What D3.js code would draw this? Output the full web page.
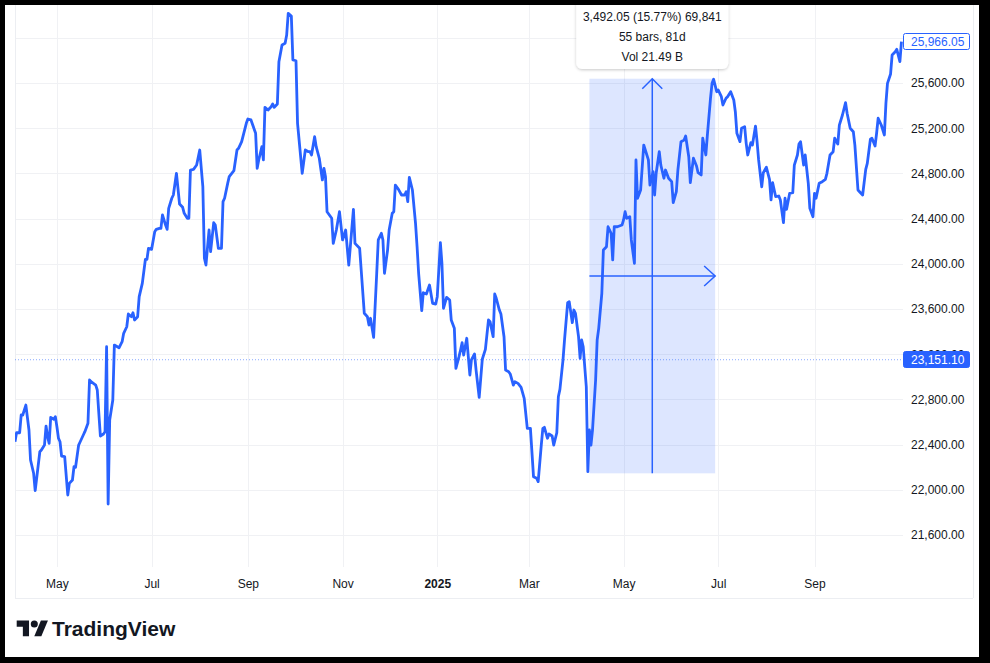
<!DOCTYPE html>
<html>
<head>
<meta charset="utf-8">
<script src="https://cdn.jsdelivr.net/npm/d3@7"></script>
<style>
  html, body { margin: 0; padding: 0; background: #ffffff; }
  svg { display: block; }
  text { font-family: "Liberation Sans", Arial, sans-serif; }
</style>
</head>
<body>
<svg id="drawing_region"></svg>
<script>
// daily closes
const dates = [
  "2024-04-04","2024-04-05","2024-04-07","2024-04-08","2024-04-09","2024-04-11","2024-04-13","2024-04-14","2024-04-16","2024-04-17",
  "2024-04-20","2024-04-21","2024-04-23","2024-04-24","2024-04-25","2024-04-26","2024-04-27","2024-04-29","2024-04-30","2024-05-01",
  "2024-05-02","2024-05-03","2024-05-04","2024-05-06","2024-05-08","2024-05-09","2024-05-11","2024-05-12","2024-05-13","2024-05-15",
  "2024-05-16","2024-05-18","2024-05-19","2024-05-21","2024-05-22","2024-05-23","2024-05-26","2024-05-27","2024-05-28","2024-05-29",
  "2024-05-31","2024-06-01","2024-06-02","2024-06-03","2024-06-04","2024-06-06","2024-06-07","2024-06-10","2024-06-12","2024-06-13",
  "2024-06-15","2024-06-16","2024-06-18","2024-06-19","2024-06-20","2024-06-22","2024-06-23","2024-06-25","2024-06-27","2024-06-28",
  "2024-06-29","2024-07-01","2024-07-03","2024-07-04","2024-07-06","2024-07-07","2024-07-08","2024-07-10","2024-07-11","2024-07-12",
  "2024-07-14","2024-07-15","2024-07-17","2024-07-19","2024-07-21","2024-07-22","2024-07-24","2024-07-25","2024-07-26","2024-07-28",
  "2024-07-30","2024-08-01","2024-08-03","2024-08-04","2024-08-05","2024-08-07","2024-08-08","2024-08-10","2024-08-11","2024-08-13",
  "2024-08-15","2024-08-16","2024-08-17","2024-08-19","2024-08-20","2024-08-23","2024-08-25","2024-08-26","2024-08-28","2024-08-31",
  "2024-09-01","2024-09-03","2024-09-06","2024-09-07","2024-09-08","2024-09-10","2024-09-11","2024-09-12","2024-09-14","2024-09-16",
  "2024-09-17","2024-09-18","2024-09-20","2024-09-21","2024-09-23","2024-09-25","2024-09-26","2024-09-27","2024-09-29","2024-09-30",
  "2024-10-02","2024-10-03","2024-10-06","2024-10-08","2024-10-10","2024-10-11","2024-10-12","2024-10-14","2024-10-15","2024-10-17",
  "2024-10-19","2024-10-20","2024-10-21","2024-10-22","2024-10-25","2024-10-26","2024-10-28","2024-10-30","2024-11-01","2024-11-03",
  "2024-11-05","2024-11-06","2024-11-08","2024-11-09","2024-11-12","2024-11-13","2024-11-15","2024-11-17","2024-11-18","2024-11-19",
  "2024-11-21","2024-11-23","2024-11-24","2024-11-26","2024-11-27","2024-11-28","2024-11-30","2024-12-01","2024-12-03","2024-12-04",
  "2024-12-05","2024-12-07","2024-12-09","2024-12-11","2024-12-12","2024-12-13","2024-12-14","2024-12-16","2024-12-18","2024-12-19",
  "2024-12-20","2024-12-22","2024-12-23","2024-12-25","2024-12-27","2024-12-29","2024-12-31","2025-01-01","2025-01-03","2025-01-04",
  "2025-01-05","2025-01-07","2025-01-09","2025-01-10","2025-01-12","2025-01-13","2025-01-15","2025-01-16","2025-01-17","2025-01-18",
  "2025-01-20","2025-01-22","2025-01-23","2025-01-25","2025-01-26","2025-01-28","2025-01-30","2025-02-01","2025-02-03","2025-02-04",
  "2025-02-06","2025-02-07","2025-02-08","2025-02-10","2025-02-11","2025-02-13","2025-02-14","2025-02-16","2025-02-17","2025-02-19",
  "2025-02-20","2025-02-22","2025-02-24","2025-02-26","2025-02-28","2025-03-02","2025-03-04","2025-03-06","2025-03-07","2025-03-09",
  "2025-03-10","2025-03-11","2025-03-13","2025-03-14","2025-03-16","2025-03-17","2025-03-19","2025-03-20","2025-03-21","2025-03-23",
  "2025-03-24","2025-03-26","2025-03-27","2025-03-29","2025-03-30","2025-03-31","2025-04-02","2025-04-03","2025-04-04","2025-04-05",
  "2025-04-07","2025-04-08","2025-04-09","2025-04-10","2025-04-11","2025-04-13","2025-04-14","2025-04-15","2025-04-17","2025-04-18",
  "2025-04-20","2025-04-21","2025-04-23","2025-04-24","2025-04-25","2025-04-27","2025-04-30","2025-05-01","2025-05-02","2025-05-03",
  "2025-05-05","2025-05-06","2025-05-08","2025-05-09","2025-05-10","2025-05-12","2025-05-14","2025-05-15","2025-05-17","2025-05-18",
  "2025-05-20","2025-05-21","2025-05-22","2025-05-24","2025-05-25","2025-05-27","2025-05-28","2025-05-30","2025-06-01","2025-06-02",
  "2025-06-04","2025-06-05","2025-06-07","2025-06-09","2025-06-10","2025-06-12","2025-06-13","2025-06-15","2025-06-17","2025-06-18",
  "2025-06-20","2025-06-21","2025-06-23","2025-06-24","2025-06-26","2025-06-27","2025-06-28","2025-06-30","2025-07-01","2025-07-03",
  "2025-07-04","2025-07-06","2025-07-07","2025-07-09","2025-07-11","2025-07-12","2025-07-13","2025-07-15","2025-07-16","2025-07-18",
  "2025-07-19","2025-07-20","2025-07-22","2025-07-23","2025-07-25","2025-07-26","2025-07-27","2025-07-29","2025-07-30","2025-08-01",
  "2025-08-03","2025-08-04","2025-08-05","2025-08-07","2025-08-09","2025-08-10","2025-08-12","2025-08-13","2025-08-14","2025-08-16",
  "2025-08-18","2025-08-19","2025-08-21","2025-08-22","2025-08-23","2025-08-25","2025-08-26","2025-08-28","2025-08-29","2025-08-31",
  "2025-09-01","2025-09-02","2025-09-04","2025-09-06","2025-09-08","2025-09-09","2025-09-11","2025-09-13","2025-09-14","2025-09-16",
  "2025-09-17","2025-09-19","2025-09-21","2025-09-22","2025-09-24","2025-09-26","2025-09-27","2025-09-29","2025-09-30","2025-10-02",
  "2025-10-04","2025-10-05","2025-10-07","2025-10-08","2025-10-10","2025-10-11","2025-10-12","2025-10-14","2025-10-16","2025-10-17",
  "2025-10-18","2025-10-20","2025-10-21","2025-10-23","2025-10-24","2025-10-26","2025-10-27"
];
const closes = [
  22425,22505,22505,22662,22662,22750,22529,22264,22146,21992,
  22337,22352,22396,22564,22470,22411,22641,22624,22647,22558,
  22456,22425,22299,22293,21954,22057,22087,22204,22199,22396,
  22425,22485,22514,22588,22972,22957,22927,22883,22677,22476,
  22494,22514,23266,21874,22618,22795,23281,23257,23311,23385,
  23443,23556,23532,23567,23503,23532,23709,23827,24040,24040,
  24137,24128,24284,24305,24314,24314,24432,24343,24305,24491,
  24580,24609,24801,24529,24500,24447,24403,24403,24830,24836,
  24874,25007,24682,24049,23989,24299,24107,24364,24343,24137,
  24137,24550,24580,24712,24771,24824,25007,25022,25081,25243,
  25281,25273,25155,24845,24919,25036,24919,25385,25361,25390,
  25414,25385,25414,25789,25936,25951,26025,26217,26193,25804,
  25797,25243,24801,25007,24992,24992,24963,25125,25036,24934,
  24742,24845,24771,24461,24403,24181,24299,24461,24211,24299,
  23989,24151,24482,24181,24137,23945,23562,23532,23458,23518,
  23349,23916,24211,24270,24211,23916,24122,24299,24447,24461,
  24697,24659,24609,24609,24638,24550,24765,24653,24358,24151,
  23916,23585,23744,23733,23812,23650,23644,23709,24187,24004,
  23606,23703,23680,23503,23429,23075,23178,23237,23302,23193,
  23341,23016,23149,23202,23060,22818,23155,23243,23503,23488,
  23355,23733,23695,23591,23556,23355,23060,23045,23025,22927,
  22957,22942,22907,22810,22544,22544,22116,22102,22072,22396,
  22544,22553,22456,22494,22476,22396,22505,22824,22889,23149,
  23332,23656,23665,23479,23591,23562,23355,23164,23326,23266,
  22912,22160,22529,22396,22529,22972,23326,23429,23739,24122,
  24151,24328,24270,24034,24328,24328,24343,24388,24461,24403,
  24417,24211,24004,24919,24580,24653,25051,25007,24919,24697,
  24815,24609,24801,24992,24874,24757,24830,24757,24727,24541,
  24638,24830,25081,25096,25131,24948,24718,24934,24865,24806,
  24786,25111,24963,25140,25465,25597,25633,25523,25538,25479,
  25405,25465,25479,25523,25450,25346,25155,25081,25199,25213,
  25066,24963,25072,25051,25219,25081,24919,24682,24806,24854,
  24748,24565,24718,24594,24600,24565,24364,24580,24482,24624,
  24629,24874,24963,25060,25081,24874,24963,24712,24491,24417,
  24624,24580,24712,24727,24748,24801,24963,24992,25111,25060,
  25228,25317,25426,25332,25199,25169,25051,24653,24638,24609,
  24836,24889,25102,25111,25042,25155,25288,25228,25140,25420,
  25597,25680,25848,25877,25898,25789,25966.05
];

const priceTicks = [21600, 22000, 22400, 22800, 23200, 23600, 24000, 24400, 24800, 25200, 25600, 26000];
const monthTicks = ["2024-05-01", "2024-07-01", "2024-09-01", "2024-11-01", "2025-01-01", "2025-03-01", "2025-05-01", "2025-07-01", "2025-09-01"];
const monthLabels = ["May", "Jul", "Sep", "Nov", "2025", "Mar", "May", "Jul", "Sep"];

const viewRange = ["2024-04-04", "2025-10-28"];
const priceRange = [21316.8, 26290.3];

const lastPrice = 25966.05;
const markedPrice = 23151.10;

const measureDates = ["2025-04-09", "2025-06-29"];
const measurePrices = [22145.75, 25637.80];
const measureText = ["3,492.05 (15.77%) 69,841", "55 bars, 81d", "Vol 21.49 B"];

const config = {
  width: 990,
  height: 663,
  plot: { left: 15, right: 903, top: 5, bottom: 567 },
  axisBottom: 598,
  axisRight: 973,
};

const blue = "#2962ff";
const textColor = "#131722";
const gridColor = "#f0f1f4";

const parse = d3.timeParse("%Y-%m-%d");
const data = dates.map((d, i) => ({ date: parse(d), close: closes[i] }));

const svg = d3.select("#drawing_region")
  .attr("width", config.width)
  .attr("height", config.height);

const p = config.plot;

const xscale = d3.scaleTime()
  .domain(viewRange.map(parse))
  .range([p.left, p.right]);
const yscale = d3.scaleLinear()
  .domain(priceRange)
  .range([p.bottom, p.top]);

const defs = svg.append("defs");
defs.append("clipPath").attr("id", "plot-clip")
  .append("rect")
  .attr("x", p.left).attr("y", p.top)
  .attr("width", p.right - p.left).attr("height", p.bottom - p.top);
const shadow = defs.append("filter").attr("id", "shadow")
  .attr("x", "-20%").attr("y", "-20%").attr("width", "140%").attr("height", "160%");
shadow.append("feDropShadow")
  .attr("dx", 0).attr("dy", 1).attr("stdDeviation", 1.8)
  .attr("flood-color", "#000").attr("flood-opacity", 0.22);

// background
svg.append("rect").attr("width", config.width).attr("height", config.height).attr("fill", "#fff");

// grid
const grid = svg.append("g");
grid.selectAll(".hgrid")
  .data(priceTicks)
  .join("line")
  .attr("x1", p.left).attr("x2", p.right)
  .attr("y1", (d) => Math.round(yscale(d)) + 0.5)
  .attr("y2", (d) => Math.round(yscale(d)) + 0.5)
  .attr("stroke", gridColor);
grid.selectAll(".vgrid")
  .data(monthTicks.map(parse))
  .join("line")
  .attr("x1", (d) => Math.round(xscale(d)) + 0.5)
  .attr("x2", (d) => Math.round(xscale(d)) + 0.5)
  .attr("y1", p.top).attr("y2", p.bottom)
  .attr("stroke", gridColor);

// pane borders
const borderColor = "#eceef2";
svg.append("line").attr("x1", p.left + 0.5).attr("x2", p.left + 0.5)
  .attr("y1", p.top).attr("y2", config.axisBottom).attr("stroke", borderColor);
svg.append("line").attr("x1", p.left).attr("x2", config.axisRight)
  .attr("y1", config.axisBottom + 0.5).attr("y2", config.axisBottom + 0.5).attr("stroke", borderColor);
svg.append("line").attr("x1", config.axisRight + 0.5).attr("x2", config.axisRight + 0.5)
  .attr("y1", p.top).attr("y2", config.axisBottom).attr("stroke", borderColor);

const chart = svg.append("g").attr("clip-path", "url(#plot-clip)");

// measure range
const mx0 = xscale(parse(measureDates[0]));
const mx1 = xscale(parse(measureDates[1]));
const my0 = yscale(measurePrices[0]);
const my1 = yscale(measurePrices[1]);
const mcx = (mx0 + mx1) / 2;
const mcy = (my0 + my1) / 2;

chart.append("rect")
  .attr("x", mx0).attr("y", my1)
  .attr("width", mx1 - mx0).attr("height", my0 - my1)
  .attr("fill", blue).attr("fill-opacity", 0.16);

// marked price line
chart.append("line")
  .attr("x1", p.left).attr("x2", p.right)
  .attr("y1", yscale(markedPrice)).attr("y2", yscale(markedPrice))
  .attr("stroke", blue).attr("stroke-opacity", 0.55)
  .attr("stroke-dasharray", "1,2");

// price line
chart.append("path")
  .datum(data)
  .attr("fill", "none")
  .attr("stroke", blue)
  .attr("stroke-width", 2.8)
  .attr("stroke-linejoin", "round")
  .attr("d", d3.line().x((d) => xscale(d.date)).y((d) => yscale(d.close)));

// measure arrows
const arrows = chart.append("g").attr("stroke", blue).attr("stroke-width", 1.5).attr("fill", "none");
arrows.append("line").attr("x1", mcx).attr("x2", mcx).attr("y1", my0).attr("y2", my1);
arrows.append("path").attr("d", `M${mcx - 10},${my1 + 10}L${mcx},${my1}L${mcx + 10},${my1 + 10}`);
arrows.append("line").attr("x1", mx0).attr("x2", mx1).attr("y1", mcy).attr("y2", mcy);
arrows.append("path").attr("d", `M${mx1 - 11},${mcy - 10}L${mx1},${mcy}L${mx1 - 11},${mcy + 10}`);

// measure tooltip
const tipW = 152;
const tip = svg.append("g");
tip.append("rect")
  .attr("x", mcx - tipW / 2).attr("y", -12)
  .attr("width", tipW).attr("height", 81)
  .attr("rx", 6)
  .attr("fill", "#fff")
  .attr("filter", "url(#shadow)");
tip.selectAll("text")
  .data(measureText)
  .join("text")
  .attr("x", mcx)
  .attr("y", (d, i) => 17 + i * 20)
  .attr("dy", "0.35em")
  .attr("text-anchor", "middle")
  .attr("font-size", "12px")
  .attr("fill", textColor)
  .text((d) => d);

// time axis
const xaxis = d3.axisBottom(xscale)
  .tickValues(monthTicks.map(parse))
  .tickFormat((d, i) => monthLabels[i])
  .tickSize(0)
  .tickPadding(0);
const xg = svg.append("g")
  .attr("transform", `translate(0, 584)`)
  .call(xaxis);
xg.select(".domain").remove();
xg.selectAll("text")
  .attr("dy", "0.35em")
  .attr("font-size", "12px")
  .attr("font-family", "Liberation Sans, Arial, sans-serif")
  .attr("fill", textColor)
  .attr("font-weight", (d, i) => (monthLabels[i] === "2025" ? "bold" : "normal"));

// price axis
const yaxis = d3.axisRight(yscale)
  .tickValues(priceTicks)
  .tickFormat(d3.format(",.2f"))
  .tickSize(0)
  .tickPadding(0);
const yg = svg.append("g")
  .attr("transform", `translate(911, 0)`)
  .call(yaxis);
yg.select(".domain").remove();
yg.selectAll("text")
  .attr("font-size", "12px")
  .attr("font-family", "Liberation Sans, Arial, sans-serif")
  .attr("fill", textColor);

// price labels on the axis (they sit over the tick labels, as in the chart)
function priceLabel(value, filled) {
  const y = yscale(value);
  const g = svg.append("g");
  g.append("rect")
    .attr("x", 903.5).attr("y", Math.round(y) - 8.5)
    .attr("width", 66).attr("height", 16)
    .attr("rx", 2)
    .attr("fill", filled ? blue : "#fff")
    .attr("stroke", blue).attr("stroke-width", 1);
  g.append("text")
    .attr("x", 911).attr("y", y)
    .attr("dy", "0.35em")
    .attr("font-size", "12px")
    .attr("fill", filled ? "#fff" : blue)
    .text(d3.format(",.2f")(value));
}
priceLabel(markedPrice, true);
priceLabel(lastPrice, false);

// logo
const logo = svg.append("g").attr("transform", "translate(16.7, 617) scale(0.88)").attr("fill", textColor);
logo.append("path").attr("d", "M14 22H7V11H0V4h14v18z");
logo.append("path").attr("d", "M28 22h-8l7.5-18h8L28 22z");
logo.append("circle").attr("cx", 20).attr("cy", 8).attr("r", 4);
svg.append("text")
  .attr("x", 52).attr("y", 636)
  .attr("font-size", "21px")
  .attr("font-weight", "bold")
  .attr("fill", textColor)
  .text("TradingView");

// screenshot frame
svg.append("path")
  .attr("fill", "#000")
  .attr("fill-rule", "evenodd")
  .attr("d", `M0,0H${config.width}V${config.height}H0Z M5,5V657H979V5Z`);
</script>
</body>
</html>
